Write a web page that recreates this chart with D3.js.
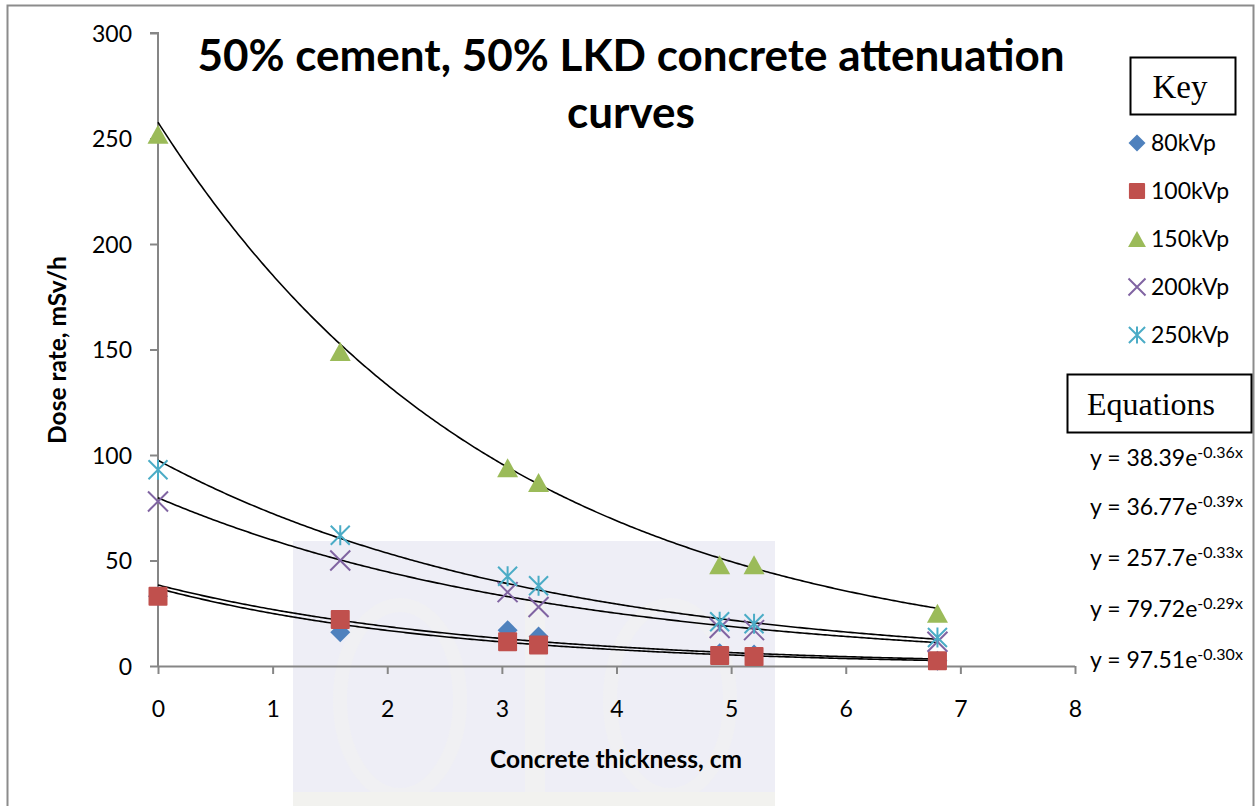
<!DOCTYPE html>
<html>
<head>
<meta charset="utf-8">
<script src="https://cdn.jsdelivr.net/npm/d3@7"></script>
<style>
  html, body { margin: 0; padding: 0; background: #fff; }
  svg { display: block; }
</style>
</head>
<body>
<svg id="chart" width="1259" height="806"></svg>
<script>
// Concrete thickness (cm) at which each dose rate was measured
const thickness = [0, 1.59, 3.05, 3.32, 4.9, 5.2, 6.8];

// Series names (tube voltage)
const seriesNames = ["80kVp", "100kVp", "150kVp", "200kVp", "250kVp"];

// Measured dose rates, mSv/h
const dose80 = [33, 16, 17, 14, 6, 5.5, 2.5];
const dose100 = [33, 22, 11.5, 10, 5, 4.5, 2.5];
const dose150 = [252, 149, 94, 87, 48, 48, 25];
const dose200 = [78, 50, 35, 28, 18, 17, 11.5];
const dose250 = [93, 62, 42.5, 38, 21, 20, 13.5];

// Exponential trendline coefficients y = a * e^(b x)
const trendA = [38.39, 36.77, 257.7, 79.72, 97.51];
const trendB = [-0.36, -0.39, -0.33, -0.29, -0.30];

// Axis tick values
const xTicks = [0, 1, 2, 3, 4, 5, 6, 7, 8];
const yTicks = [0, 50, 100, 150, 200, 250, 300];

const colors = ["#4F81BD", "#C0504D", "#9BBB59", "#8064A2", "#4BACC6"];
const shapes = ["diamond", "square", "triangle", "cross", "star"];
const allDose = [dose80, dose100, dose150, dose200, dose250];

const svg = d3.select("#chart");
const font = "Lato, 'Open Sans', sans-serif";

const x = d3.scaleLinear().domain([0, 8]).range([158, 1075]);
const y = d3.scaleLinear().domain([0, 300]).range([666, 33]);

// Outer chart frame (left, top, right)
svg.append("path")
  .attr("d", "M7.5,806 L7.5,5.5 L1253.5,5.5 L1253.5,806")
  .attr("fill", "none").attr("stroke", "#8c8c8c").attr("stroke-width", 2);

// Pale backdrop panel behind the lower plot area
const bg = svg.append("g");
bg.append("rect").attr("x", 293).attr("y", 541).attr("width", 482).attr("height", 265)
  .attr("fill", "#eeeef6");
bg.append("ellipse").attr("cx", 400).attr("cy", 700).attr("rx", 60).attr("ry", 95)
  .attr("fill", "none").attr("stroke", "#f0f0f3").attr("stroke-width", 14);
bg.append("ellipse").attr("cx", 670).attr("cy", 700).attr("rx", 60).attr("ry", 95)
  .attr("fill", "none").attr("stroke", "#f0f0f3").attr("stroke-width", 14);
bg.append("rect").attr("x", 525).attr("y", 600).attr("width", 20).attr("height", 206)
  .attr("fill", "#f1f1f2");
bg.append("rect").attr("x", 293).attr("y", 792).attr("width", 482).attr("height", 14)
  .attr("fill", "#f2f2ef");

// Axes
const yAxis = d3.axisLeft(y).tickValues(yTicks).tickSize(8).tickPadding(18)
  .tickFormat(d3.format("d"));
const gy = svg.append("g").attr("transform", `translate(${x(0)},0)`).call(yAxis);
const xAxis = d3.axisBottom(x).tickValues(xTicks).tickSize(8)
  .tickFormat(d3.format("d"));
const gx = svg.append("g").attr("transform", `translate(0,${y(0)})`).call(xAxis);

[gx, gy].forEach(g => {
  g.select(".domain").attr("stroke", "#868686").attr("stroke-width", 2);
  g.selectAll(".tick line").attr("stroke", "#868686").attr("stroke-width", 2);
  g.selectAll(".tick text").attr("font-family", font).attr("font-size", 23)
    .attr("fill", "#000");
});
gy.selectAll(".tick text").attr("dy", "0.36em");
gx.selectAll(".tick text").attr("y", 35).attr("dy", "0.71em");
gx.select(".domain").attr("d", `M${x(0)},0.5H${x(8)}`);
gy.select(".domain").attr("d", `M-8,${y(300)}H0V${y(0)}`);

// Trendlines
const line = d3.line().x(d => x(d[0])).y(d => y(d[1]));
const xs = d3.range(0, 6.8 + 1e-9, 0.02);
trendA.forEach((a, i) => {
  const pts = xs.map(t => [t, a * Math.exp(trendB[i] * t)]);
  svg.append("path").attr("d", line(pts)).attr("fill", "none")
    .attr("stroke", "#000").attr("stroke-width", 1.6);
});

// Marker drawing
function drawMarker(g, shape, color, cx, cy, s) {
  const k = s || 1;
  if (shape === "diamond") {
    const r = 10 * k;
    g.append("path").attr("d", `M${cx},${cy - r}L${cx + r},${cy}L${cx},${cy + r}L${cx - r},${cy}Z`)
      .attr("fill", color);
  } else if (shape === "square") {
    const r = 9.5 * k;
    g.append("rect").attr("x", cx - r).attr("y", cy - r).attr("width", 2 * r).attr("height", 2 * r)
      .attr("rx", 1).attr("fill", color);
  } else if (shape === "triangle") {
    const w = 10.5 * k, h = 9.5 * k;
    g.append("path").attr("d", `M${cx},${cy - h}L${cx + w},${cy + h}L${cx - w},${cy + h}Z`)
      .attr("fill", color);
  } else if (shape === "cross") {
    const r = 10 * k;
    g.append("path").attr("d", `M${cx - r},${cy - r}L${cx + r},${cy + r}M${cx - r},${cy + r}L${cx + r},${cy - r}`)
      .attr("stroke", color).attr("stroke-width", 2).attr("fill", "none");
  } else if (shape === "star") {
    const r = 9.5 * k;
    g.append("path").attr("d", `M${cx - r},${cy - r}L${cx + r},${cy + r}M${cx - r},${cy + r}L${cx + r},${cy - r}M${cx},${cy - r * 1.05}L${cx},${cy + r * 1.05}`)
      .attr("stroke", color).attr("stroke-width", 2).attr("fill", "none");
  }
}

// Data points
allDose.forEach((vals, i) => {
  const g = svg.append("g");
  vals.forEach((v, j) => drawMarker(g, shapes[i], colors[i], x(thickness[j]), y(v)));
});

// Title
const title = svg.append("text").attr("font-family", font)
  .attr("font-weight", 700).attr("font-size", 44).attr("text-anchor", "middle").attr("fill", "#000");
title.append("tspan").attr("x", 631).attr("y", 71).text("50% cement, 50% LKD concrete attenuation");
title.append("tspan").attr("x", 631).attr("y", 128).text("curves");

// Axis titles
svg.append("text").attr("transform", "translate(66,350) rotate(-90)")
  .attr("text-anchor", "middle").attr("font-family", font).attr("font-weight", 700)
  .attr("font-size", 24.5).text("Dose rate, mSv/h");
svg.append("text").attr("x", 616).attr("y", 768)
  .attr("text-anchor", "middle").attr("font-family", font).attr("font-weight", 700)
  .attr("font-size", 24.5).text("Concrete thickness, cm");

// Key box
svg.append("rect").attr("x", 1130.5).attr("y", 57.5).attr("width", 105).attr("height", 57)
  .attr("fill", "#fff").attr("stroke", "#000").attr("stroke-width", 2);
svg.append("text").attr("x", 1180).attr("y", 98).attr("text-anchor", "middle")
  .attr("font-family", "'Liberation Serif', serif").attr("font-size", 33).text("Key");

const legend = svg.append("g");
seriesNames.forEach((name, i) => {
  const cy = 143 + i * 48;
  drawMarker(legend, shapes[i], colors[i], 1137, cy, 0.85);
  legend.append("text").attr("x", 1151).attr("y", cy).attr("dy", "0.36em")
    .attr("font-family", font).attr("font-size", 23).text(name);
});

// Equations box
svg.append("rect").attr("x", 1067.5).attr("y", 374.5).attr("width", 184).attr("height", 58)
  .attr("fill", "#fff").attr("stroke", "#000").attr("stroke-width", 2);
svg.append("text").attr("x", 1151).attr("y", 415).attr("text-anchor", "middle")
  .attr("font-family", "'Liberation Serif', serif").attr("font-size", 32).text("Equations");

const eqY = [458, 507, 558, 609, 660];
trendA.forEach((a, i) => {
  const t = svg.append("text").attr("x", 1090).attr("y", eqY[i]).attr("dy", "0.36em")
    .attr("font-family", font).attr("font-size", 23);
  t.append("tspan").text(`y = ${String(a)}e`);
  t.append("tspan").attr("dy", "-0.5em").attr("font-size", 16)
    .text(`${trendB[i].toFixed(2)}x`);
});
</script>
</body>
</html>
